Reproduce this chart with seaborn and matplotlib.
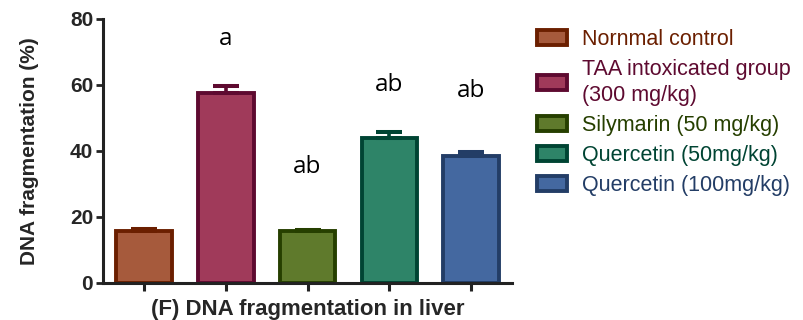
import matplotlib
matplotlib.use("Agg")
import matplotlib.pyplot as plt
import seaborn as sns
import pandas as pd
from matplotlib.patches import Patch

groups = ["Nornmal control", "TAA intoxicated group\n(300 mg/kg)", "Silymarin (50 mg/kg)",
          "Quercetin (50mg/kg)", "Quercetin (100mg/kg)"]
means = [15.8, 57.5, 15.6, 43.9, 38.5]
sem = [0.6, 2.1, 0.5, 1.7, 1.2]
letters = ["", "a", "ab", "ab", "ab"]
letter_y = [None, 74, 35, 60, 58]

fills = ["#A65A3C", "#A03A5A", "#5F7A2C", "#2E8468", "#4468A0"]
edges = ["#6B1F00", "#5E0A30", "#263F00", "#004433", "#233D66"]

sns.set_theme(style="ticks")
plt.rcParams["font.family"] = ["Liberation Sans", "DejaVu Sans"]

df = pd.DataFrame({"group": groups, "value": means})

fig = plt.figure(figsize=(8.04, 3.2), dpi=100)
ax = fig.add_axes([0.128, 0.116, 0.509, 0.825])

sns.barplot(data=df, x="group", y="value", hue="group", palette=fills,
            width=0.68, errorbar=None, legend=False, ax=ax, saturation=1)
for bar, ec in zip(ax.patches, edges):
    bar.set_edgecolor(ec)
    bar.set_linewidth(2.8)

for i, (m, s, ec) in enumerate(zip(means, sem, edges)):
    ax.errorbar(i, m, yerr=[[0], [s]], fmt="none", ecolor=ec,
                elinewidth=2.6, capsize=9.5, capthick=2.9, zorder=1)

for i, (t, y) in enumerate(zip(letters, letter_y)):
    if t:
        ax.text(i, y, t, ha="center", va="center", fontsize=17.5,
                family=["Open Sans", "DejaVu Sans"], color="black")

ax.set_xlim(-0.5, 4.5)
ax.set_ylim(0, 80)
ax.set_yticks([0, 20, 40, 60, 80])
ax.set_xticks(range(5))
ax.set_xticklabels([])
ax.set_xlabel("(F) DNA fragmentation in liver", fontsize=16, fontweight="bold",
              labelpad=2)
ax.set_ylabel("DNA fragmentation (%)", fontsize=15, fontweight="bold", labelpad=22)
for lab in ax.get_yticklabels():
    lab.set_fontweight("bold")
    lab.set_fontsize(15)
ax.tick_params(axis="y", width=2, length=5, color="#222222", pad=2)
ax.tick_params(axis="x", width=2.2, length=6, color="#222222")
sns.despine(ax=ax)
for sp in ("left", "bottom"):
    ax.spines[sp].set_linewidth(2.2)
    ax.spines[sp].set_color("#222222")

handles = [Patch(facecolor=f, edgecolor=e, linewidth=2.8) for f, e in zip(fills, edges)]
leg = fig.legend(handles, groups, loc="upper left", bbox_to_anchor=(0.668, 0.91),
                 frameon=False, fontsize=15.5, labelcolor=edges, handlelength=1.4,
                 handleheight=0.7, handletextpad=0.7, labelspacing=0.42,
                 borderaxespad=0, borderpad=0)
for txt in leg.get_texts():
    txt.set_linespacing(1.33)

fig.savefig("out.png", dpi=100)
